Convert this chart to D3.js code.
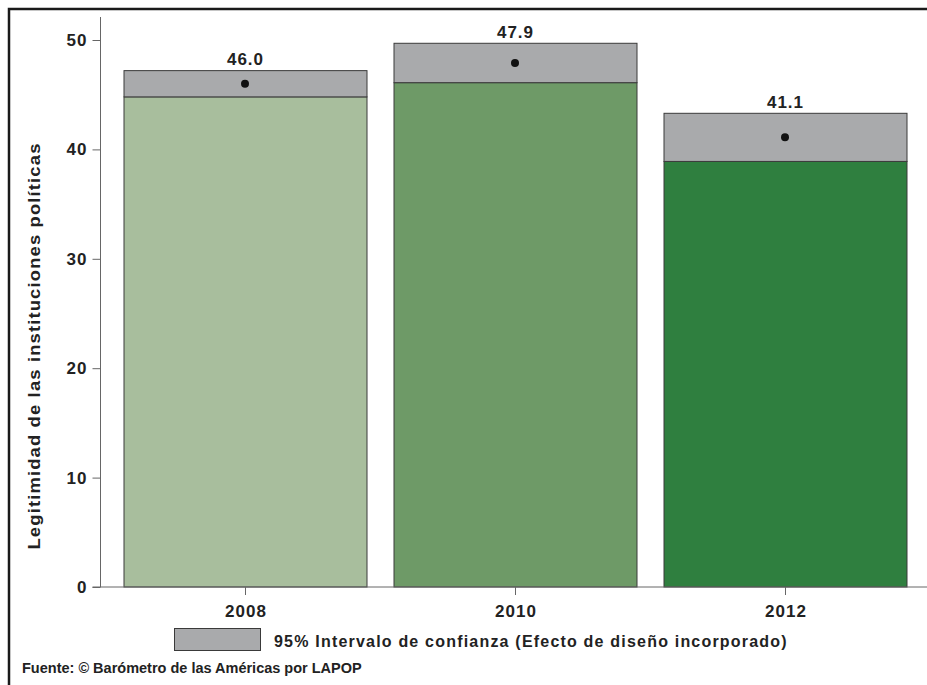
<!DOCTYPE html>
<html>
<head>
<meta charset="utf-8">
<script src="https://cdn.jsdelivr.net/npm/d3@7"></script>
<style>
  html, body { margin: 0; padding: 0; background: #fff; }
  svg { display: block; }
  text { font-family: "Liberation Sans", Arial, Helvetica, sans-serif; font-weight: bold; fill: #222; }
</style>
</head>
<body>
<svg id="chart" width="927" height="685"></svg>
<script>
// ---- data ----
const years = ["2008", "2010", "2012"];
const means = [46.0, 47.9, 41.1];
const ciLow = [44.8, 46.1, 38.9];
const ciHigh = [47.2, 49.7, 43.3];
const yTicks = [0, 10, 20, 30, 40, 50];
const yTitle = "Legitimidad de las instituciones políticas";
const legendLabel = "95% Intervalo de confianza (Efecto de diseño incorporado)";
const sourceLabel = "Fuente: © Barómetro de las Américas por LAPOP";

// ---- styles ----
const barColors = ["#a8be9d", "#6e9a67", "#2f7f3f"];
const ciColor = "#a9aaac";

const svg = d3.select("#chart");

// outer frame
svg.append("rect")
  .attr("x", 9).attr("y", 9).attr("width", 940).attr("height", 700)
  .attr("fill", "none").attr("stroke", "#1a1a1a").attr("stroke-width", 2.5);

const x = d3.scaleBand().domain(years).range([110, 920]).paddingInner(0.1).paddingOuter(0.05);
const y = d3.scaleLinear().domain([0, 50]).range([587, 40]);

const data = years.map((yr, i) => ({ yr, mean: means[i], lo: ciLow[i], hi: ciHigh[i], color: barColors[i] }));

// bars
svg.selectAll("rect.bar").data(data).enter().append("rect")
  .attr("class", "bar")
  .attr("x", d => x(d.yr) + 0.5)
  .attr("y", d => y(d.lo))
  .attr("width", x.bandwidth())
  .attr("height", d => y(0) - y(d.lo))
  .attr("fill", d => d.color)
  .attr("stroke", "#3a3a3a").attr("stroke-width", 1);

// CI boxes
svg.selectAll("rect.ci").data(data).enter().append("rect")
  .attr("class", "ci")
  .attr("x", d => x(d.yr) + 0.5)
  .attr("y", d => y(d.hi))
  .attr("width", x.bandwidth())
  .attr("height", d => y(d.lo) - y(d.hi))
  .attr("fill", ciColor)
  .attr("stroke", "#3a3a3a").attr("stroke-width", 1);

// mean points
svg.selectAll("circle.pt").data(data).enter().append("circle")
  .attr("cx", d => x(d.yr) + x.bandwidth() / 2)
  .attr("cy", d => y(d.mean))
  .attr("r", 4)
  .attr("fill", "#111");

// value labels
svg.selectAll("text.val").data(data).enter().append("text")
  .attr("x", d => x(d.yr) + x.bandwidth() / 2 + 0.5)
  .attr("y", d => y(d.hi) - 5.5)
  .attr("text-anchor", "middle")
  .attr("font-size", 17).attr("letter-spacing", 1)
  .text(d => d.mean.toFixed(1));

// y axis
const yAxis = d3.axisLeft(y).tickValues(yTicks).tickSize(8).tickPadding(6).tickFormat(d3.format("d"));
const gy = svg.append("g").attr("transform", "translate(100.5,0)").call(yAxis);
gy.select(".domain").attr("d", `M0,17V${y(0)}`).attr("stroke", "#666");
gy.selectAll(".tick line").attr("stroke", "#666");
gy.selectAll(".tick text")
  .attr("font-size", 17).attr("letter-spacing", 1)
  .attr("font-family", null).attr("fill", "#222").attr("dx", 1);

// x axis
const xAxis = d3.axisBottom(x).tickSize(8).tickPadding(10);
const gx = svg.append("g").attr("transform", `translate(0.5,${y(0)})`).call(xAxis);
gx.select(".domain").attr("d", "M92,0H930").attr("stroke", "#666");
gx.selectAll(".tick line").attr("stroke", "#666");
gx.selectAll(".tick text")
  .attr("font-size", 17).attr("letter-spacing", 1)
  .attr("font-family", null).attr("fill", "#222").attr("dx", 0.5);

// y title
svg.append("text")
  .attr("transform", "translate(40,346) rotate(-90) scale(1.15,1)")
  .attr("text-anchor", "middle")
  .attr("font-size", 16).attr("letter-spacing", 1)
  .text(yTitle);

// legend
svg.append("rect")
  .attr("x", 174.5).attr("y", 628.5).attr("width", 86).attr("height", 22)
  .attr("fill", ciColor).attr("stroke", "#3a3a3a").attr("stroke-width", 1);
svg.append("text")
  .attr("x", 274).attr("y", 647)
  .attr("font-size", 16).attr("letter-spacing", 1.2)
  .text(legendLabel);

// source
svg.append("text")
  .attr("x", 22).attr("y", 673)
  .attr("font-size", 14.5).attr("letter-spacing", 0)
  .text(sourceLabel);
</script>
</body>
</html>
